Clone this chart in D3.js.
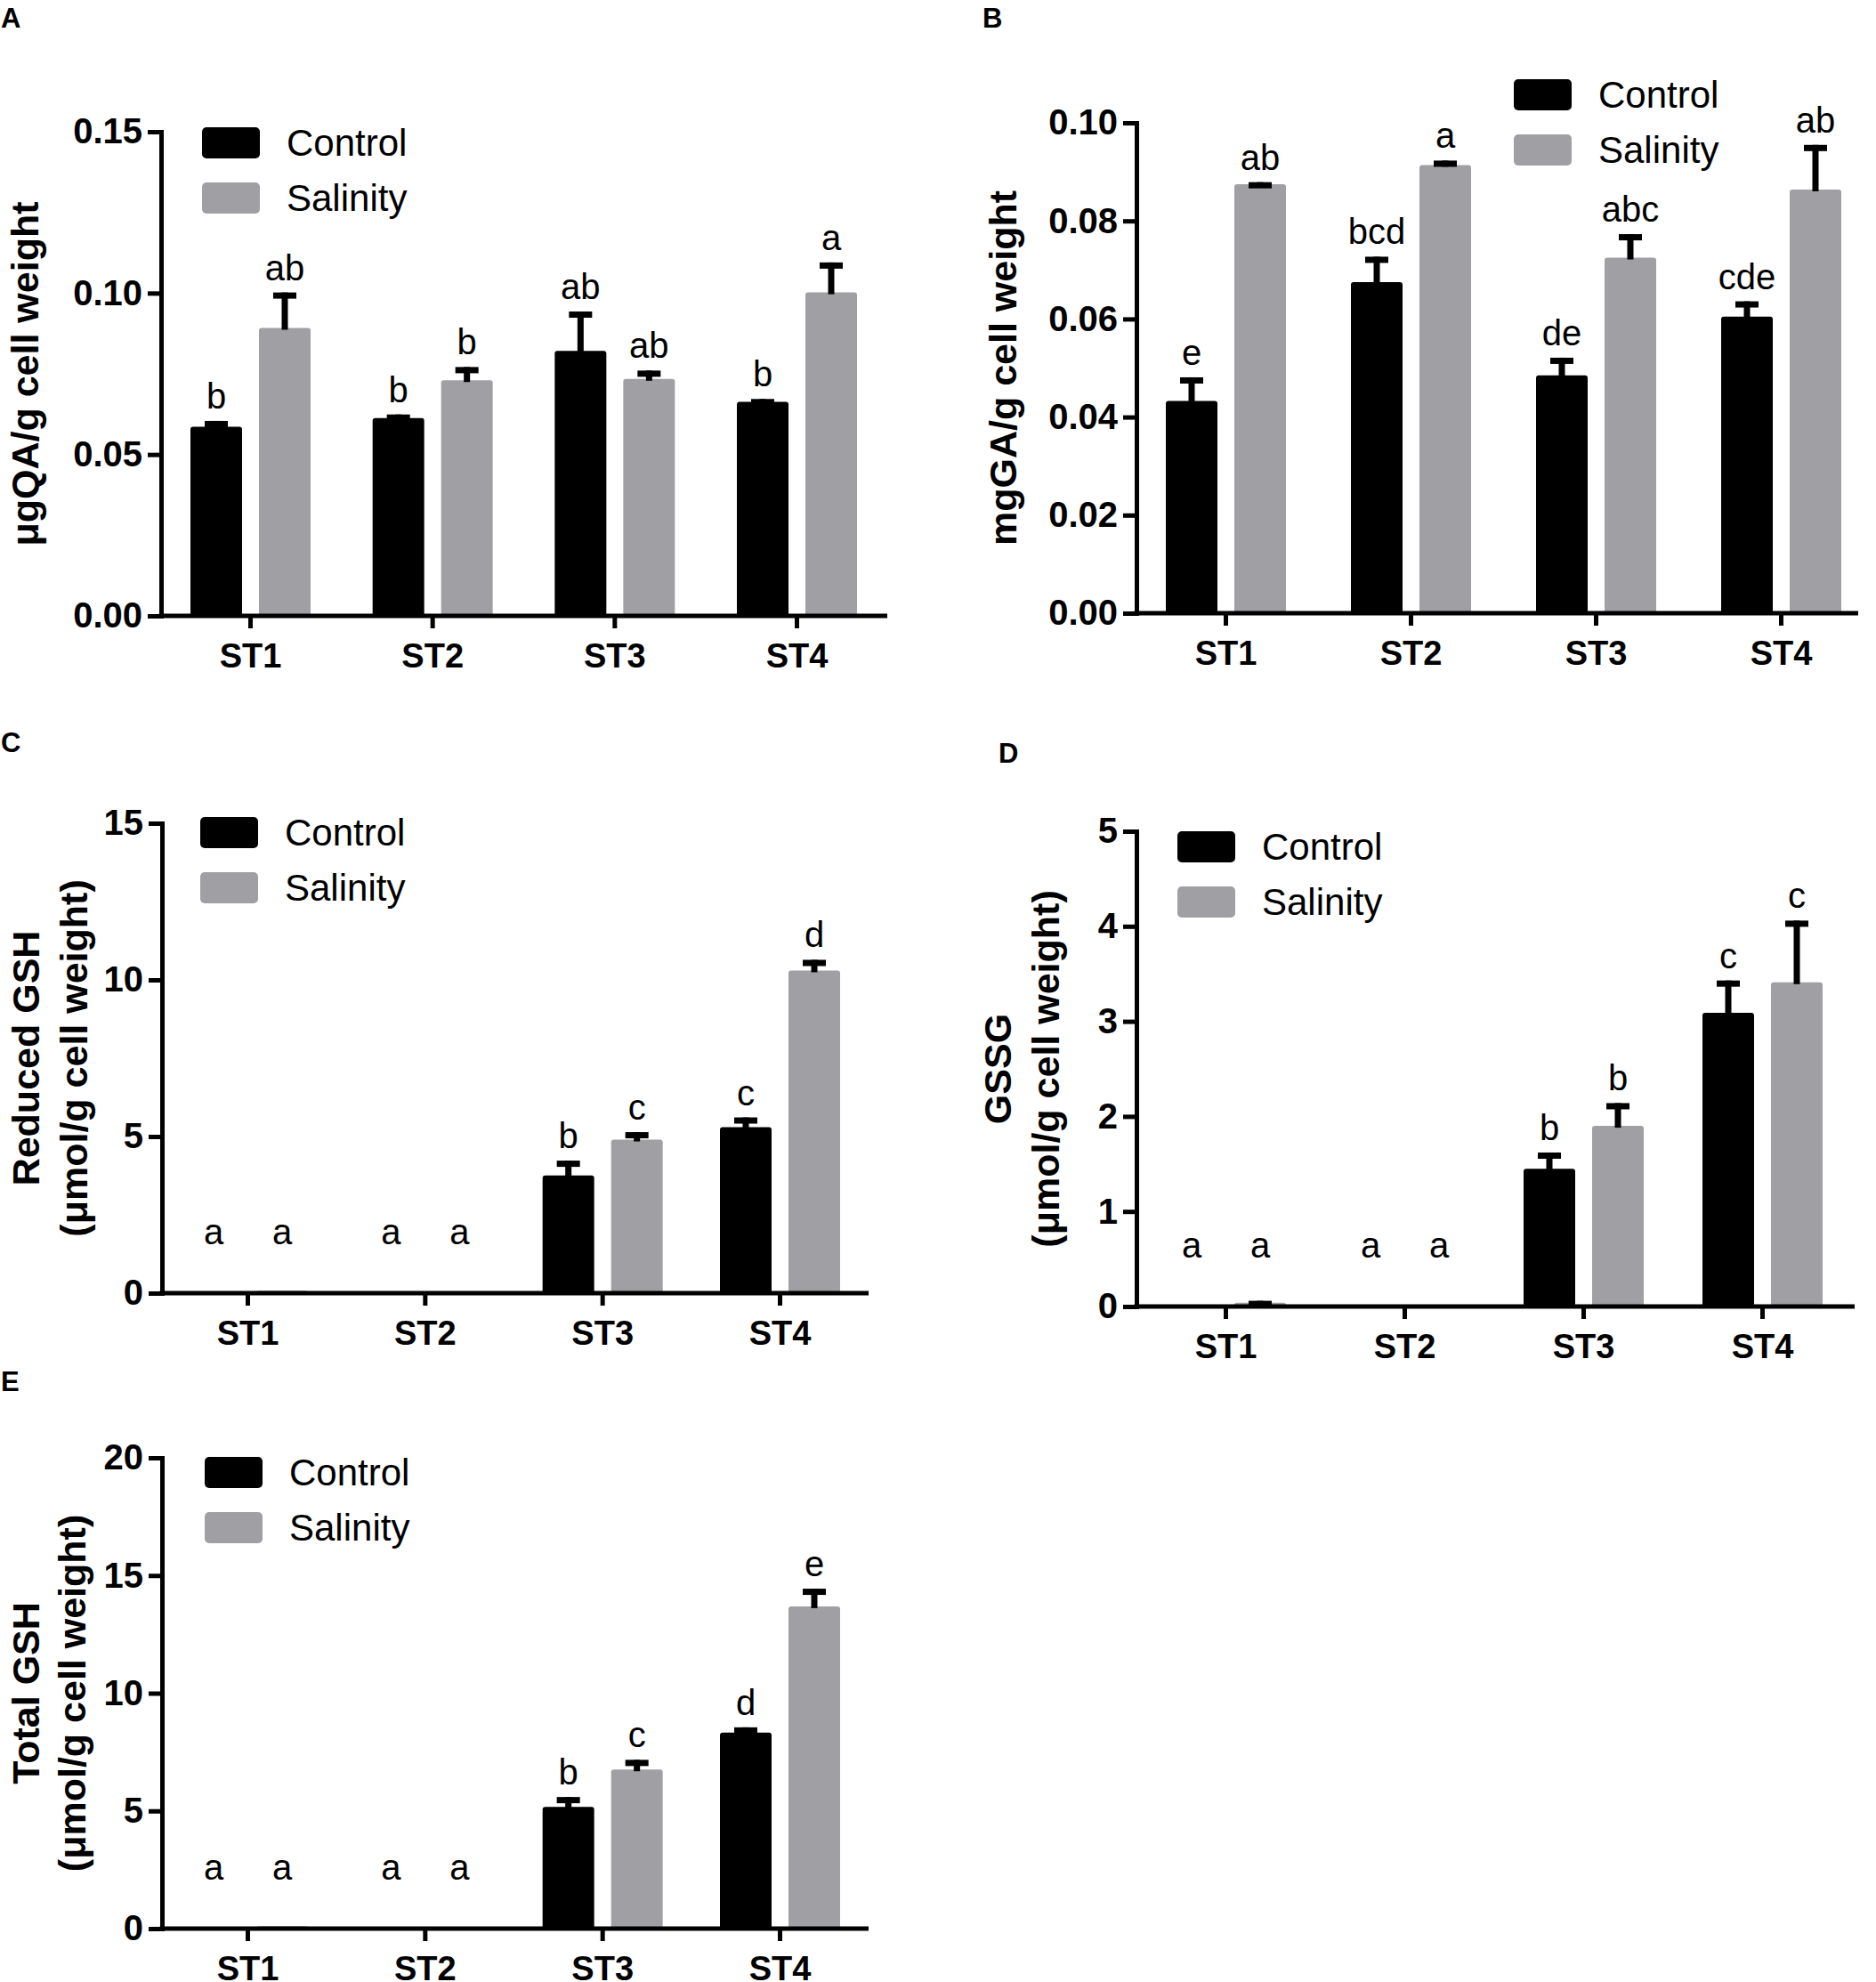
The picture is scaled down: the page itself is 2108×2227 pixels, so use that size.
<!DOCTYPE html>
<html>
<head>
<meta charset="utf-8">
<script src="https://cdn.jsdelivr.net/npm/d3@7"></script>
<style>
	body { margin: 0; background: #fff; }
	svg { display: block; font-family: "Liberation Sans", Arial, sans-serif; }
	.axis path, .axis line { stroke: #000; stroke-width: 5; }
	.axis text { fill: #000; font-weight: bold; }
</style>
</head>
<body>
<svg id="figure" width="2108" height="2227"></svg>
<script>

const CATEGORIES = ['ST1', 'ST2', 'ST3', 'ST4'];
const SERIES = ['Control', 'Salinity'];

// A: quinolinic acid
const A_CONTROL = [0.0586, 0.0613, 0.0821, 0.0663];
const A_CONTROL_ERR = [0.0018, 0.0011, 0.0122, 0.0009];
const A_SALINITY = [0.0892, 0.0730, 0.0734, 0.1002];
const A_SALINITY_ERR = [0.0110, 0.0041, 0.0026, 0.0093];
const A_LETTERS_CONTROL = ['b', 'b', 'ab', 'b'];
const A_LETTERS_SALINITY = ['ab', 'b', 'ab', 'a'];

// B: gallic acid
const B_CONTROL = [0.0433, 0.0675, 0.0485, 0.0605];
const B_CONTROL_ERR = [0.0048, 0.0052, 0.0036, 0.0031];
const B_SALINITY = [0.0875, 0.0914, 0.0725, 0.0864];
const B_SALINITY_ERR = [0.0004, 0.0009, 0.0048, 0.0091];
const B_LETTERS_CONTROL = ['e', 'bcd', 'de', 'cde'];
const B_LETTERS_SALINITY = ['ab', 'a', 'abc', 'ab'];

// C: reduced GSH
const C_CONTROL = [0, 0, 3.76, 5.30];
const C_CONTROL_ERR = [0, 0, 0.47, 0.31];
const C_SALINITY = [0.08, 0, 4.90, 10.30];
const C_SALINITY_ERR = [0, 0, 0.24, 0.34];
const C_LETTERS_CONTROL = ['a', 'a', 'b', 'c'];
const C_LETTERS_SALINITY = ['a', 'a', 'c', 'd'];

// D: GSSG
const D_CONTROL = [0, 0, 1.45, 3.09];
const D_CONTROL_ERR = [0, 0, 0.17, 0.34];
const D_SALINITY = [0.04, 0, 1.90, 3.41];
const D_SALINITY_ERR = [0.02, 0, 0.24, 0.65];
const D_LETTERS_CONTROL = ['a', 'a', 'b', 'c'];
const D_LETTERS_SALINITY = ['a', 'a', 'b', 'c'];

// E: total GSH
const E_CONTROL = [0, 0, 5.17, 8.33];
const E_CONTROL_ERR = [0, 0, 0.42, 0.22];
const E_SALINITY = [0.10, 0, 6.76, 13.69];
const E_SALINITY_ERR = [0, 0, 0.41, 0.75];
const E_LETTERS_CONTROL = ['a', 'a', 'b', 'd'];
const E_LETTERS_SALINITY = ['a', 'a', 'c', 'e'];

const COLORS = ['#000000', '#a0a0a4'];

const BAR_W = 58;
const BAR_OFFSET = [-38, 39]; // bar centre relative to category tick

class BarPanel {
	constructor(svg, cfg) {
		const g = svg.append('g');

		const y = d3.scaleLinear()
			.domain([0, cfg.yMax])
			.range([cfg.yBottom, cfg.yTop]);

		const x = d3.scalePoint()
			.domain(CATEGORIES)
			.range(cfg.xTicks);

		// panel letter
		g.append('text')
			.attr('x', cfg.letter[0])
			.attr('y', cfg.letter[1])
			.attr('font-size', 31)
			.attr('font-weight', 'bold')
			.text(cfg.name);

		// bars + error bars + significance letters
		const series = [
			{ values: cfg.control, err: cfg.controlErr, letters: cfg.lettersControl },
			{ values: cfg.salinity, err: cfg.salinityErr, letters: cfg.lettersSalinity }
		];

		series.forEach((s, si) => {
			const rows = CATEGORIES.map((c, i) => ({
				cat: c, v: s.values[i], e: s.err[i], letter: s.letters[i]
			}));
			const cx = d => x(d.cat) + BAR_OFFSET[si];

			g.append('g')
				.selectAll('rect')
				.data(rows.filter(d => d.v > 0))
				.enter()
				.append('rect')
					.attr('x', d => cx(d) - BAR_W / 2)
					.attr('y', d => y(d.v))
					.attr('width', BAR_W)
					.attr('height', d => y(0) - y(d.v))
					.attr('rx', 3)
					.attr('fill', COLORS[si]);

			const errRows = rows.filter(d => d.e > 0);
			// stem
			g.append('g')
				.selectAll('rect')
				.data(errRows)
				.enter()
				.append('rect')
					.attr('x', d => cx(d) - 3.5)
					.attr('y', d => y(d.v + d.e))
					.attr('width', 7)
					.attr('height', d => y(d.v) - y(d.v + d.e) + 2)
					.attr('fill', '#000');
			// cap
			g.append('g')
				.selectAll('rect')
				.data(errRows)
				.enter()
				.append('rect')
					.attr('x', d => cx(d) - 13)
					.attr('y', d => y(d.v + d.e))
					.attr('width', 26)
					.attr('height', 7)
					.attr('fill', '#000');

			g.append('g')
				.selectAll('text')
				.data(rows)
				.enter()
				.append('text')
					.attr('x', cx)
					.attr('y', d => Math.min(y(d.v + d.e) - 14, y(0) - 55))
					.attr('text-anchor', 'middle')
					.attr('font-size', 40)
					.text(d => d.letter);
		});

		// y axis
		g.append('g')
			.classed('axis', true)
			.attr('transform', `translate(${cfg.axisX},0)`)
			.call(d3.axisLeft(y)
				.tickValues(cfg.yTicks)
				.tickSize(15)
				.tickSizeOuter(0)
				.tickPadding(6)
				.tickFormat(d3.format(cfg.fmt)))
			.call(a => a.selectAll('text').attr('font-size', 40))
			.call(a => a.select('.domain').attr('stroke-linecap', 'square'));

		// x axis: own baseline line, ticks from the point scale
		g.append('line')
			.attr('x1', cfg.axisX - 2.5)
			.attr('x2', cfg.xEnd)
			.attr('y1', y(0))
			.attr('y2', y(0))
			.attr('stroke', '#000')
			.attr('stroke-width', 5);

		g.append('g')
			.classed('axis', true)
			.attr('transform', `translate(0,${y(0)})`)
			.call(d3.axisBottom(x).tickSize(14).tickPadding(17))
			.call(a => a.select('.domain').remove())
			.call(a => a.selectAll('text').attr('font-size', 38));

		// y title (one or two lines, rotated)
		cfg.title.forEach((t, i) => {
			g.append('text')
				.attr('transform', `translate(${cfg.titleX[i]},${(cfg.yTop + cfg.yBottom) / 2}) rotate(-90)`)
				.attr('text-anchor', 'middle')
				.attr('dy', '0.35em')
				.attr('font-size', 43)
				.attr('font-weight', 'bold')
				.text(t);
		});

		// legend
		const lg = g.append('g')
			.attr('transform', `translate(${cfg.legend[0]},${cfg.legend[1]})`);
		SERIES.forEach((s, i) => {
			lg.append('rect')
				.attr('x', 0)
				.attr('y', i * 62)
				.attr('width', 65)
				.attr('height', 35)
				.attr('rx', 5)
				.attr('fill', COLORS[i]);
			lg.append('text')
				.attr('x', 95)
				.attr('y', i * 62 + 17.5)
				.attr('dy', '0.35em')
				.attr('font-size', 42)
				.text(s);
		});
	}
}

const svg = d3.select('#figure');

new BarPanel(svg, {
	name: 'A', letter: [1, 31],
	control: A_CONTROL, controlErr: A_CONTROL_ERR,
	salinity: A_SALINITY, salinityErr: A_SALINITY_ERR,
	lettersControl: A_LETTERS_CONTROL, lettersSalinity: A_LETTERS_SALINITY,
	yMax: 0.15, yTicks: [0, 0.05, 0.10, 0.15], fmt: '.2f',
	yTop: 148, yBottom: 692, axisX: 181, xTicks: [281, 895], xEnd: 997,
	title: ['μgQA/g cell weight'], titleX: [28],
	legend: [227, 143]
});

new BarPanel(svg, {
	name: 'B', letter: [1104, 31],
	control: B_CONTROL, controlErr: B_CONTROL_ERR,
	salinity: B_SALINITY, salinityErr: B_SALINITY_ERR,
	lettersControl: B_LETTERS_CONTROL, lettersSalinity: B_LETTERS_SALINITY,
	yMax: 0.10, yTicks: [0, 0.02, 0.04, 0.06, 0.08, 0.10], fmt: '.2f',
	yTop: 138, yBottom: 689, axisX: 1277, xTicks: [1377, 2001], xEnd: 2088,
	title: ['mgGA/g cell weight'], titleX: [1127],
	legend: [1701, 89]
});

new BarPanel(svg, {
	name: 'C', letter: [1, 845],
	control: C_CONTROL, controlErr: C_CONTROL_ERR,
	salinity: C_SALINITY, salinityErr: C_SALINITY_ERR,
	lettersControl: C_LETTERS_CONTROL, lettersSalinity: C_LETTERS_SALINITY,
	yMax: 15, yTicks: [0, 5, 10, 15], fmt: 'd',
	yTop: 925, yBottom: 1453, axisX: 182, xTicks: [278, 876], xEnd: 976,
	title: ['Reduced GSH', '(μmol/g cell weight)'], titleX: [29, 83],
	legend: [225, 918]
});

new BarPanel(svg, {
	name: 'D', letter: [1122, 857],
	control: D_CONTROL, controlErr: D_CONTROL_ERR,
	salinity: D_SALINITY, salinityErr: D_SALINITY_ERR,
	lettersControl: D_LETTERS_CONTROL, lettersSalinity: D_LETTERS_SALINITY,
	yMax: 5, yTicks: [0, 1, 2, 3, 4, 5], fmt: 'd',
	yTop: 934, yBottom: 1468, axisX: 1277, xTicks: [1377, 1980], xEnd: 2084,
	title: ['GSSG', '(μmol/g cell weight)'], titleX: [1121, 1175],
	legend: [1323, 934]
});

new BarPanel(svg, {
	name: 'E', letter: [1, 1563],
	control: E_CONTROL, controlErr: E_CONTROL_ERR,
	salinity: E_SALINITY, salinityErr: E_SALINITY_ERR,
	lettersControl: E_LETTERS_CONTROL, lettersSalinity: E_LETTERS_SALINITY,
	yMax: 20, yTicks: [0, 5, 10, 15, 20], fmt: 'd',
	yTop: 1638, yBottom: 2167, axisX: 182, xTicks: [278, 876], xEnd: 976,
	title: ['Total GSH', '(μmol/g cell weight)'], titleX: [29, 81],
	legend: [230, 1637]
});

</script>
</body>
</html>
